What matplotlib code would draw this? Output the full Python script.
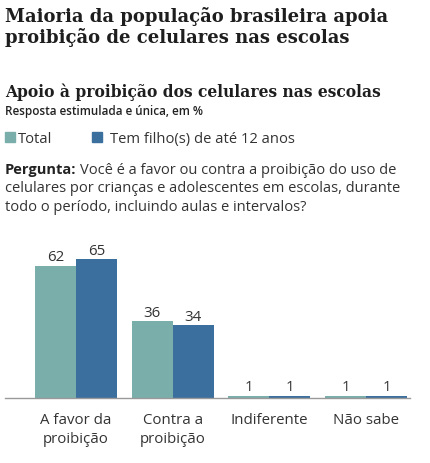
import matplotlib
matplotlib.use("Agg")
import matplotlib.pyplot as plt
import numpy as np

# data
categorias = ["A favor da\nproibição", "Contra a\nproibição", "Indiferente", "Não sabe"]
total = [62, 36, 1, 1]
tem_filhos = [65, 34, 1, 1]
series_nomes = ["Total", "Tem filho(s) de até 12 anos"]

cor_total = "#7aaeab"
cor_filhos = "#3b6f9e"

W, H = 430, 464
fig = plt.figure(figsize=(W / 100, H / 100), dpi=100)

def fy(py):
    # pixel from top -> figure fraction
    return 1 - py / H

def fx(px):
    return px / W

serif = "DejaVu Serif"
sans = "Open Sans"
txt = "#333333"

# titles
fig.text(fx(5), fy(22), "Maioria da população brasileira apoia",
         family=serif, weight="bold", fontsize=13.0, va="baseline", color="#1e1e1e")
fig.text(fx(5), fy(43), "proibição de celulares nas escolas",
         family=serif, weight="bold", fontsize=13.0, va="baseline", color="#1e1e1e")
fig.text(fx(5), fy(97), "Apoio à proibição dos celulares nas escolas",
         family=serif, weight="bold", fontsize=11.2, va="baseline", color="#1e1e1e")
fig.text(fx(5), fy(115), "Resposta estimulada e única, em %",
         family=sans, weight="semibold", fontsize=8.4, va="baseline", color="#222222")

# legend
fig.patches.append(plt.Rectangle((fx(5), fy(143)), 10 / W, 10 / H, transform=fig.transFigure,
                                 color=cor_total, figure=fig))
fig.text(fx(18), fy(143), series_nomes[0], family=sans, fontsize=10.6, va="baseline", color=txt)
fig.patches.append(plt.Rectangle((fx(92), fy(143)), 10 / W, 10 / H, transform=fig.transFigure,
                                 color=cor_filhos, figure=fig))
fig.text(fx(110), fy(143), series_nomes[1], family=sans, fontsize=10.6, va="baseline", color=txt)

# question
rend = fig.canvas.get_renderer()
tb = fig.text(fx(5), fy(174), "Pergunta:", family=sans, weight="bold", fontsize=10.5,
              va="baseline", color="#222222")
bw = tb.get_window_extent(renderer=rend).width
fig.text(fx(5 + bw + 4), fy(174), "Você é a favor ou contra a proibição do uso de",
         family=sans, fontsize=10.5, va="baseline", color=txt)
fig.text(fx(5), fy(192.5), "celulares por crianças e adolescentes em escolas, durante",
         family=sans, fontsize=10.5, va="baseline", color=txt)
fig.text(fx(5), fy(211), "todo o período, incluindo aulas e intervalos?",
         family=sans, fontsize=10.5, va="baseline", color=txt)

# chart
ax = fig.add_axes([fx(5), (H - 398.7) / H, (410 - 5) / W, 149 / H])
x = np.arange(len(categorias))
w = 0.424
b1 = ax.bar(x - w / 2, total, w, color=cor_total)
b2 = ax.bar(x + w / 2, tem_filhos, w, color=cor_filhos)
for bars in (b1, b2):
    for r in bars:
        ax.text(r.get_x() + r.get_width() / 2, r.get_height() + 2.6, str(int(r.get_height())),
                ha="center", va="baseline", family=sans, fontsize=10.8, color=txt)
ax.set_xlim(-0.734, 3.455)
ax.set_ylim(0, 70)
ax.set_xticks(x)
ax.set_xticklabels(categorias, family=sans, fontsize=10.8, color=txt, linespacing=1.4)
ax.tick_params(axis="x", length=0, pad=10)
ax.set_yticks([])
for s in ["top", "right", "left"]:
    ax.spines[s].set_visible(False)
ax.spines["bottom"].set_color("#999999")
ax.spines["bottom"].set_linewidth(1)

fig.savefig("out.png", dpi=100)
